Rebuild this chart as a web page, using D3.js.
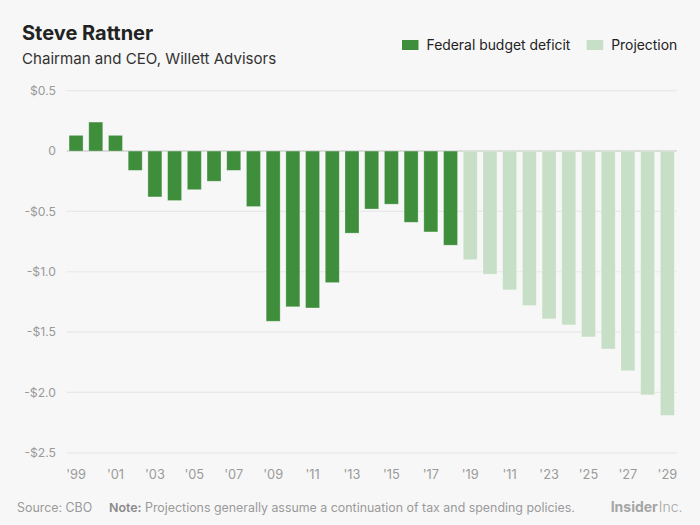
<!DOCTYPE html>
<html><head><meta charset="utf-8">
<script src="https://cdn.jsdelivr.net/npm/d3@7"></script>
<style>
html,body{margin:0;padding:0;background:#f7f7f7;}
svg{display:block;font-family:Inter,"Noto Sans",sans-serif;}
</style></head>
<body><svg id="c" width="700" height="525"></svg>
<script>
const years = d3.range(1999, 2030);
const actualValues = [0.13,0.24,0.13,-0.16,-0.38,-0.41,-0.32,-0.25,-0.16,-0.46,-1.41,-1.29,-1.30,-1.09,-0.68,-0.48,-0.44,-0.59,-0.67,-0.78];
const projectionValues = [-0.90,-1.02,-1.15,-1.28,-1.39,-1.44,-1.54,-1.64,-1.82,-2.02,-2.19];
const yTicks = [0.5,0,-0.5,-1.0,-1.5,-2.0,-2.5];
const yTickLabels = ["$0.5","0","-$0.5","-$1.0","-$1.5","-$2.0","-$2.5"];
const xTickYears = [1999,2001,2003,2005,2007,2009,2011,2013,2015,2017,2019,2021,2023,2025,2027,2029];
const xTickLabels = ["'99","'01","'03","'05","'07","'09","'11","'13","'15","'17","'19","'11","'23","'25","'27","'29"];
const seriesNames = ["Federal budget deficit","Projection"];
const colors = ["#3e8e3c","#c6dfc6"];

const data = years.map((y,i)=> i < actualValues.length
  ? {year:y, value:actualValues[i], series:0}
  : {year:y, value:projectionValues[i-actualValues.length], series:1});

const svg = d3.select("#c");
const left = 66.7, right = 676.7;
const x = d3.scaleBand().domain(years).range([left,right]).paddingInner(0.29).paddingOuter(0.12);
const y = d3.scaleLinear().domain([-2.5,0.5]).range([452.8,90.7]);

// gridlines
svg.append("g").selectAll("line").data(yTicks).join("line")
  .attr("x1",left).attr("x2",right)
  .attr("y1",d=>y(d)).attr("y2",d=>y(d))
  .attr("stroke",d=>d===0?"#d2d2d2":"#e8e8e8").attr("stroke-width",d=>d===0?1.5:1.2);

// y labels
svg.append("g").selectAll("text").data(yTicks).join("text")
  .attr("x",56).attr("y",d=>y(d)).attr("dy","0.35em")
  .attr("text-anchor","end").attr("fill","#9a9a9a").attr("font-size",12.2)
  .text((d,i)=>yTickLabels[i]);

// bars
svg.append("g").selectAll("rect").data(data).join("rect")
  .attr("x",d=>x(d.year)).attr("width",x.bandwidth())
  .attr("y",d=>y(Math.max(0,d.value)))
  .attr("height",d=>Math.abs(y(d.value)-y(0)))
  .attr("fill",d=>colors[d.series])
  .attr("stroke","rgba(255,255,255,0.35)").attr("stroke-width",0.8);

// x labels
svg.append("g").selectAll("text").data(xTickYears).join("text")
  .attr("x",d=>x(d)+x.bandwidth()/2).attr("y",478.5)
  .attr("text-anchor","middle").attr("fill","#9a9a9a").attr("font-size",12.8)
  .text((d,i)=>xTickLabels[i]);

// title
svg.append("text").attr("x",22).attr("y",39.5).attr("font-size",20).attr("font-weight",700)
  .attr("fill","#222").text("Steve Rattner");
svg.append("text").attr("x",22).attr("y",64).attr("font-size",15.1)
  .attr("fill","#333").text("Chairman and CEO, Willett Advisors");

// legend
const legX = [402, 586.7];
seriesNames.forEach((n,i)=>{
  svg.append("rect").attr("x",legX[i]).attr("y",40).attr("width",16.5).attr("height",10).attr("fill",colors[i]);
  svg.append("text").attr("x",legX[i]+24.5).attr("y",49.5).attr("font-size",13.9)
    .attr("fill","#222").text(n);
});

// footer
const ft = svg.append("text").attr("x",17).attr("y",511.5).attr("font-size",12.4).attr("fill","#9a9a9a");
ft.append("tspan").text("Source: CBO");
ft.append("tspan").attr("x",109).attr("font-weight",600).attr("fill","#8a8a8a").text("Note:");
ft.append("tspan").text(" Projections generally assume a continuation of tax and spending policies.");

const ins = svg.append("text").attr("x",682.5).attr("y",511.5).attr("text-anchor","end")
  .attr("font-size",14).attr("fill","#a5a5a5");
ins.append("tspan").attr("font-weight",700).text("Insider");
ins.append("tspan").attr("font-weight",300).attr("dx",1).text("Inc.");
</script></body></html>
